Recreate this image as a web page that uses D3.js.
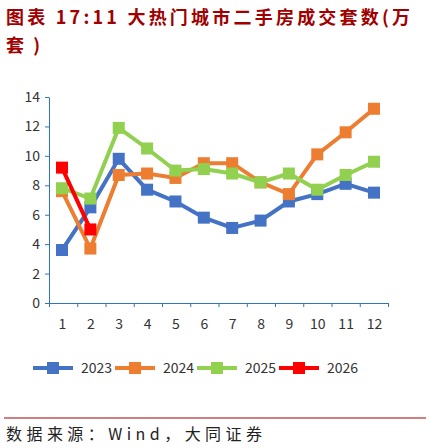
<!DOCTYPE html><html><head><meta charset="utf-8"><script src="https://cdn.jsdelivr.net/npm/d3@7"></script>
<style>body{margin:0;background:#fff;font-family:"Noto Sans CJK SC",sans-serif}</style></head><body><svg id="c" width="430" height="448"></svg>
<script>
const months=["1","2","3","4","5","6","7","8","9","10","11","12"];
const yTicks=[0,2,4,6,8,10,12,14];
const s2023=[3.6,6.5,9.8,7.7,6.9,5.8,5.1,5.6,6.9,7.4,8.1,7.5];
const s2024=[7.6,3.7,8.7,8.8,8.5,9.5,9.5,8.2,7.4,10.1,11.6,13.2];
const s2025=[7.8,7.1,11.9,10.5,9.0,9.1,8.8,8.2,8.8,7.7,8.7,9.6];
const s2026=[9.2,5.0];
const names=["2023","2024","2025","2026"];
const colors=["#4472C4","#ED7D31","#92D050","#FF0000"];
const series=[s2023,s2024,s2025,s2026];
const svg=d3.select("#c");
svg.append("text").attr("x",6).attr("y",24).attr("fill","#a00000").attr("font-size",18).attr("font-weight","bold").attr("textLength",404).attr("lengthAdjust","spacing").text("图表 17:11 大热门城市二手房成交套数(万");
svg.append("text").attr("x",6).attr("y",52).attr("fill","#a00000").attr("font-size",18).attr("font-weight","bold").attr("textLength",34).attr("lengthAdjust","spacing").text("套)");
const x=d3.scalePoint().domain(months).range([62,374]);
const y=d3.scaleLinear().domain([0,14]).range([303,97]);
const ax="#2E75B6";
const ya=svg.append("g").attr("transform","translate(49,0)").call(d3.axisLeft(y).tickValues(yTicks).tickSize(4).tickSizeOuter(0));
const xb=d3.scaleLinear().domain([0,12]).range([49,388]);
const xa=svg.append("g").attr("transform","translate(0,303)").call(d3.axisBottom(xb).tickValues(d3.range(0,13)).tickSize(4).tickFormat(""));
svg.append("g").attr("transform","translate(0,303)").call(d3.axisBottom(x).tickSize(0).tickPadding(16)).select(".domain").remove();
svg.selectAll(".domain,.tick line").attr("stroke",ax);
svg.selectAll(".tick text").attr("font-size",14).attr("fill","#333").attr("font-family","Noto Sans CJK SC");
ya.selectAll(".tick text").attr("dx",-2);
const line=d3.line().x((d,i)=>x(months[i])).y(d=>y(d));
series.forEach((s,k)=>{
 svg.append("path").datum(s).attr("d",line).attr("fill","none").attr("stroke",colors[k]).attr("stroke-width",4);
 svg.selectAll(null).data(s).enter().append("rect").attr("x",(d,i)=>x(months[i])-6).attr("y",d=>y(d)-6).attr("width",12).attr("height",12).attr("fill",colors[k]);
});
const lx=[33,115,197,279];
names.forEach((n,k)=>{
 const g=svg.append("g").attr("transform",`translate(${lx[k]},368)`);
 g.append("line").attr("x1",0).attr("x2",40).attr("stroke",colors[k]).attr("stroke-width",4);
 g.append("rect").attr("x",14).attr("y",-6).attr("width",12).attr("height",12).attr("fill",colors[k]);
 g.append("text").attr("x",48).attr("y",5).attr("font-size",14).attr("fill","#333").text(n);
});
svg.append("line").attr("x1",4).attr("x2",426).attr("y1",418).attr("y2",418).attr("stroke","#a00000").attr("stroke-width",1);
svg.append("text").attr("x",6).attr("y",440).attr("font-size",16).attr("fill","#222").attr("textLength",256).attr("lengthAdjust","spacing").text("数据来源：Wind，大同证券");
</script></body></html>
